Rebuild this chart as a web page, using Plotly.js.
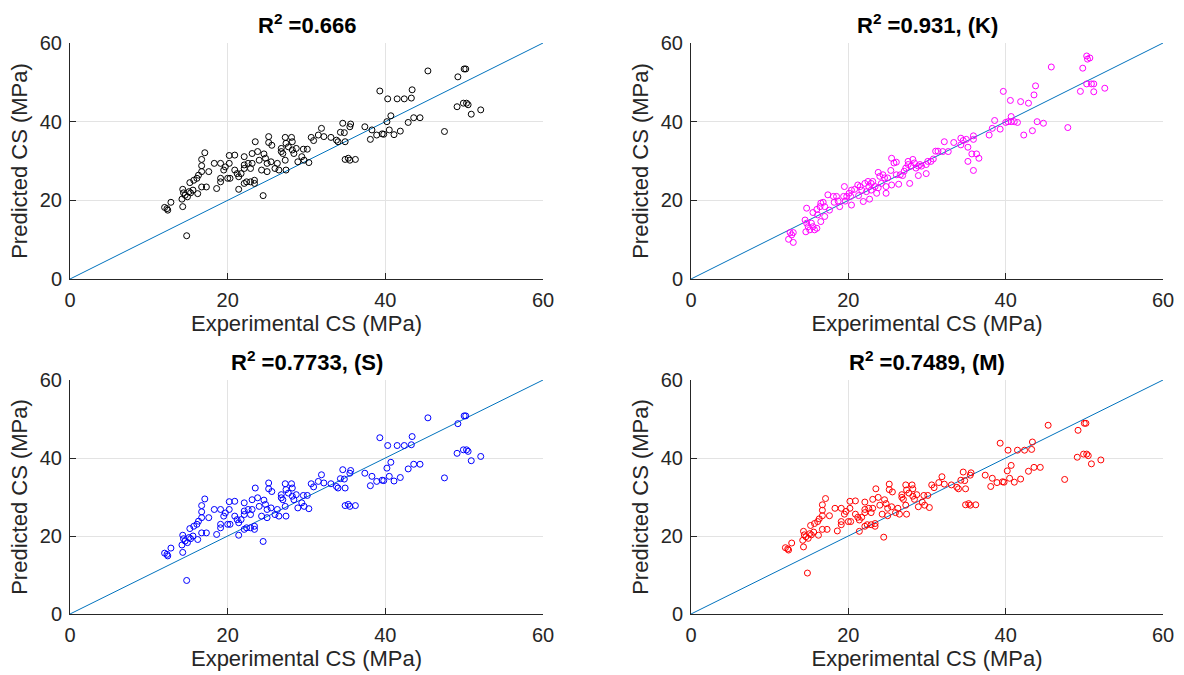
<!DOCTYPE html>
<html>
<head>
<meta charset="utf-8">
<script src="https://cdn.plot.ly/plotly-3.0.1.min.js"></script>
<style>html,body{margin:0;padding:0;background:#fff;}#chart{width:1184px;height:675px;}</style>
</head>
<body>
<div id="chart"></div>
<script>
// Experimental compressive strength (shared by panels 1, S and M)
const expCS = [12.0,12.3,12.4,12.8,14.2,14.3,14.3,14.4,14.6,14.8,14.9,15.1,15.2,15.3,15.6,15.7,16.1,16.2,16.3,16.7,16.7,16.7,16.7,17.1,17.3,17.6,18.3,18.6,19.1,19.1,19.1,19.5,19.7,20.0,20.2,20.2,20.3,20.9,20.9,21.2,21.4,21.4,21.7,22.1,22.1,22.1,22.1,22.4,22.6,22.9,22.9,23.1,23.1,23.4,23.4,23.5,23.8,24.0,24.3,24.5,24.6,24.8,25.0,25.0,25.2,25.2,25.5,25.6,26.0,26.3,26.5,26.8,26.8,27.0,27.3,27.3,27.4,27.4,27.7,28.1,28.2,28.2,28.4,28.7,28.9,29.4,29.6,29.7,30.1,30.3,30.6,30.9,31.5,31.9,32.2,33.1,33.8,34.0,34.3,34.6,34.8,34.9,34.9,35.3,35.5,35.5,35.6,36.2,37.4,38.1,38.3,38.9,39.3,39.6,39.8,40.2,40.3,40.5,40.7,41.1,41.5,41.9,42.4,42.9,43.3,43.4,43.6,44.4,45.4,47.5,49.1,49.2,49.9,50.0,50.2,50.3,50.5,50.9,52.1];
// Predicted CS, first panel (R2 = 0.666)
const predBase = [18.2,17.9,17.5,19.5,20.3,18.4,22.8,21.9,21.3,11.0,20.9,22.2,24.5,21.9,22.6,25.1,25.6,21.7,26.4,30.4,28.8,27.3,23.4,32.1,23.4,27.3,29.4,23.0,29.4,24.7,25.6,27.7,28.5,25.6,31.4,29.4,25.6,31.5,27.7,26.8,26.0,22.8,26.8,31.1,29.0,28.1,24.3,24.7,29.4,28.1,24.7,29.4,31.9,25.1,24.3,34.9,32.4,30.2,27.7,21.2,31.8,30.7,29.4,27.3,36.2,34.7,29.8,34.0,28.1,29.4,27.7,32.4,33.2,31.9,36.0,30.2,27.7,34.5,33.6,36.0,34.9,32.8,31.9,33.2,29.8,31.1,33.0,30.2,33.0,29.6,36.0,35.2,36.6,38.3,36.2,36.0,35.3,34.9,37.3,39.6,37.2,34.9,30.4,30.7,38.7,30.2,39.4,30.4,38.7,35.5,37.9,36.6,47.8,36.9,36.8,40.0,45.8,37.9,41.5,36.7,45.8,37.6,45.8,39.8,46.0,48.1,41.0,41.0,52.9,37.5,43.8,51.4,44.7,53.4,53.4,44.7,44.3,41.9,43.0];
// Predicted CS, (S) panel (R2 = 0.7733)
const predS = [15.6,15.3,14.9,16.9,17.7,15.8,20.2,19.3,18.7,8.6,18.3,19.6,21.9,19.3,20.0,22.5,23.0,19.1,23.8,27.8,26.2,24.7,20.8,29.5,20.8,24.7,26.8,20.4,26.8,22.1,23.0,25.1,25.9,23.0,28.8,26.8,23.0,28.9,25.1,24.2,23.4,20.2,24.2,28.5,26.4,25.5,21.7,22.1,26.8,25.5,22.1,26.8,29.3,22.5,21.7,32.3,29.8,27.6,25.1,18.6,29.2,28.1,26.8,24.7,33.6,32.1,27.2,31.4,25.5,26.8,25.1,29.8,30.6,29.3,33.4,27.6,25.1,31.9,31.0,33.4,32.3,30.2,29.3,30.6,27.2,28.5,30.4,27.6,30.4,27.0,33.4,32.6,34.0,35.7,33.6,33.4,32.7,32.3,34.7,37.0,34.6,32.3,27.8,28.1,36.1,27.6,36.8,27.8,36.1,32.9,35.3,34.0,45.2,34.3,34.2,37.4,43.2,35.3,38.9,34.1,43.2,35.0,43.2,37.2,43.4,45.5,38.4,38.4,50.3,34.9,41.2,48.8,42.1,50.8,50.8,42.1,41.7,39.3,40.4];
// Predicted CS, (M) panel (R2 = 0.7489)
const predM = [17.0,16.7,16.4,18.2,18.9,17.2,21.2,20.3,19.8,10.5,19.4,20.6,22.7,20.3,21.0,23.2,23.7,20.2,24.4,28.0,26.6,25.2,21.7,29.6,21.7,25.2,27.1,21.3,27.1,22.9,23.7,25.6,26.3,23.7,28.9,27.1,23.7,29.0,25.6,24.8,24.1,21.2,24.8,28.7,26.8,26.0,22.5,22.9,27.1,26.0,22.9,27.1,29.4,23.2,22.5,32.1,29.9,27.9,25.6,19.7,29.3,28.3,27.1,25.2,33.3,31.9,27.5,31.3,26.0,27.1,25.6,29.9,30.6,29.4,33.1,27.9,25.6,31.8,31.0,33.1,32.1,30.2,29.4,30.6,27.5,28.7,30.4,27.9,30.4,27.3,33.1,32.4,33.7,35.2,33.3,33.1,32.5,32.1,34.3,36.4,34.2,32.1,28.0,28.3,35.6,27.9,36.2,28.0,35.6,32.7,34.8,33.7,43.8,33.9,33.8,36.7,42.0,34.8,38.1,33.8,42.0,34.6,42.0,36.6,42.2,44.1,37.6,37.6,48.4,34.5,40.2,47.1,41.0,48.9,48.9,41.0,40.6,38.5,39.5];
// (K) panel (R2 = 0.931): experimental and predicted CS
const expK = [12.6,13.0,12.4,13.0,12.8,14.7,14.5,14.7,14.6,14.9,15.1,15.3,15.5,15.7,16.0,15.5,16.0,16.1,16.4,16.5,16.8,17.0,16.5,17.0,17.4,17.6,18.1,18.5,18.2,18.7,18.9,19.5,19.4,19.8,19.6,20.1,20.4,20.3,20.4,20.8,21.2,21.3,21.5,21.7,21.9,22.1,22.3,22.5,22.6,22.7,22.9,22.9,23.1,23.4,23.6,23.8,23.8,24.0,24.2,24.4,24.6,24.8,24.8,25.0,25.4,25.5,25.8,26.1,25.5,26.1,26.4,26.6,26.9,27.1,27.3,27.6,27.6,27.8,28.0,28.2,28.4,28.6,28.9,28.9,29.1,29.3,29.9,29.9,30.1,30.5,30.8,31.1,31.4,32.2,32.0,32.7,33.4,34.3,34.3,34.6,35.0,35.2,35.2,35.9,35.9,35.7,35.9,36.3,36.6,37.9,38.3,38.6,39.3,39.7,40.0,40.3,40.6,40.7,40.7,41.1,41.5,41.9,42.3,42.9,43.4,43.6,43.8,44.0,44.8,45.8,47.9,49.5,49.8,50.3,50.3,50.4,50.7,50.9,51.2,51.2,52.6];
const predK = [11.8,11.8,10.1,9.3,11.2,18.0,15.0,14.2,12.0,13.3,12.5,14.2,13.3,12.5,12.9,16.9,17.7,16.3,18.4,19.3,19.5,18.4,14.6,15.9,21.4,17.5,21.0,21.0,19.5,19.8,18.4,23.5,21.0,21.0,19.8,21.8,18.8,21.0,22.6,22.8,23.9,21.2,23.5,22.6,19.7,24.3,22.2,24.8,23.5,20.3,24.3,22.6,24.8,23.5,21.8,23.2,27.1,26.1,24.3,26.5,25.7,21.8,23.5,25.7,27.6,30.7,29.5,29.7,23.9,26.5,24.1,26.5,26.3,27.4,28.2,29.1,29.9,24.3,28.7,30.4,29.5,28.2,28.7,26.3,29.1,28.7,26.8,29.1,29.9,29.9,30.5,32.5,32.5,34.9,32.4,32.4,34.7,35.8,34.1,35.2,35.5,33.5,29.9,36.4,35.5,31.8,27.6,31.8,30.7,36.6,38.3,40.3,38.1,47.7,39.8,40.0,45.4,41.3,40.0,40.0,39.8,45.1,36.6,44.7,37.7,46.8,49.1,40.0,39.6,53.9,38.5,47.7,53.6,49.6,56.7,55.9,56.2,49.6,49.6,47.6,48.5];

const panelTitles = ["R<sup>2</sup> =0.666", "R<sup>2</sup> =0.931, (K)", "R<sup>2</sup> =0.7733, (S)", "R<sup>2</sup> =0.7489, (M)"];
const tickVals = [0, 20, 40, 60];
const tickText = ["0", "20", "40", "60"];
const lineXY = [0, 60];

const panels = [
  {x: expCS, y: predBase, color: '#000000'},
  {x: expK, y: predK, color: '#ff00ff'},
  {x: expCS, y: predS, color: '#0000ff'},
  {x: expCS, y: predM, color: '#ff0000'}
];

const W = 1184, H = 675;
const boxes = [
  {l: 70, r: 543, t: 43, b: 279},
  {l: 691, r: 1163, t: 43, b: 279},
  {l: 70, r: 543, t: 380, b: 614},
  {l: 691, r: 1163, t: 380, b: 614}
];
const FONT = 'Liberation Sans, Arial, Helvetica, sans-serif';

const traces = [];
const layout = {
  width: W, height: H,
  margin: {l: 0, r: 0, t: 0, b: 0},
  paper_bgcolor: '#ffffff', plot_bgcolor: '#ffffff',
  showlegend: false,
  font: {family: FONT, color: '#262626'},
  annotations: []
};

panels.forEach((p, i) => {
  const n = i === 0 ? '' : String(i + 1);
  const xa = 'x' + n, ya = 'y' + n;
  traces.push({
    x: lineXY, y: lineXY, xaxis: xa, yaxis: ya, type: 'scatter', mode: 'lines',
    line: {color: '#0072bd', width: 1}, hoverinfo: 'skip'
  });
  traces.push({
    x: p.x, y: p.y, xaxis: xa, yaxis: ya, type: 'scatter', mode: 'markers',
    marker: {symbol: 'circle-open', size: 6, color: p.color, line: {width: 1, color: p.color}},
    hoverinfo: 'x+y'
  });
  const b = boxes[i];
  const axCommon = {
    range: [0, 60], tickmode: 'array', tickvals: tickVals, ticktext: tickText,
    showgrid: true, gridcolor: '#e3e3e3', gridwidth: 1, zeroline: false,
    showline: true, linecolor: '#262626', linewidth: 1, mirror: false,
    ticks: 'inside', ticklen: 6, tickcolor: '#262626', tickwidth: 1,
    tickfont: {size: 20, color: '#262626', family: FONT},
    ticklabelstandoff: 3,
    fixedrange: true
  };
  layout['xaxis' + n] = Object.assign({}, axCommon, {
    domain: [b.l / W, b.r / W], anchor: ya,
    title: {text: 'Experimental CS (MPa)', font: {size: 22, color: '#262626', family: FONT}, standoff: 4}
  });
  layout['yaxis' + n] = Object.assign({}, axCommon, {
    domain: [1 - b.b / H, 1 - b.t / H], anchor: xa,
    title: {text: 'Predicted CS (MPa)', font: {size: 22, color: '#262626', family: FONT}, standoff: 6}
  });
  layout.annotations.push({
    xref: 'paper', yref: 'paper', x: (b.l + b.r) / 2 / W, y: 1 - (b.t - 19) / H,
    xanchor: 'center', yanchor: 'middle', showarrow: false,
    text: '<b>' + panelTitles[i] + '</b>', font: {size: 22, color: '#000000', family: FONT}
  });
});

Plotly.newPlot('chart', traces, layout, {staticPlot: true, displayModeBar: false});
</script>
</body>
</html>
